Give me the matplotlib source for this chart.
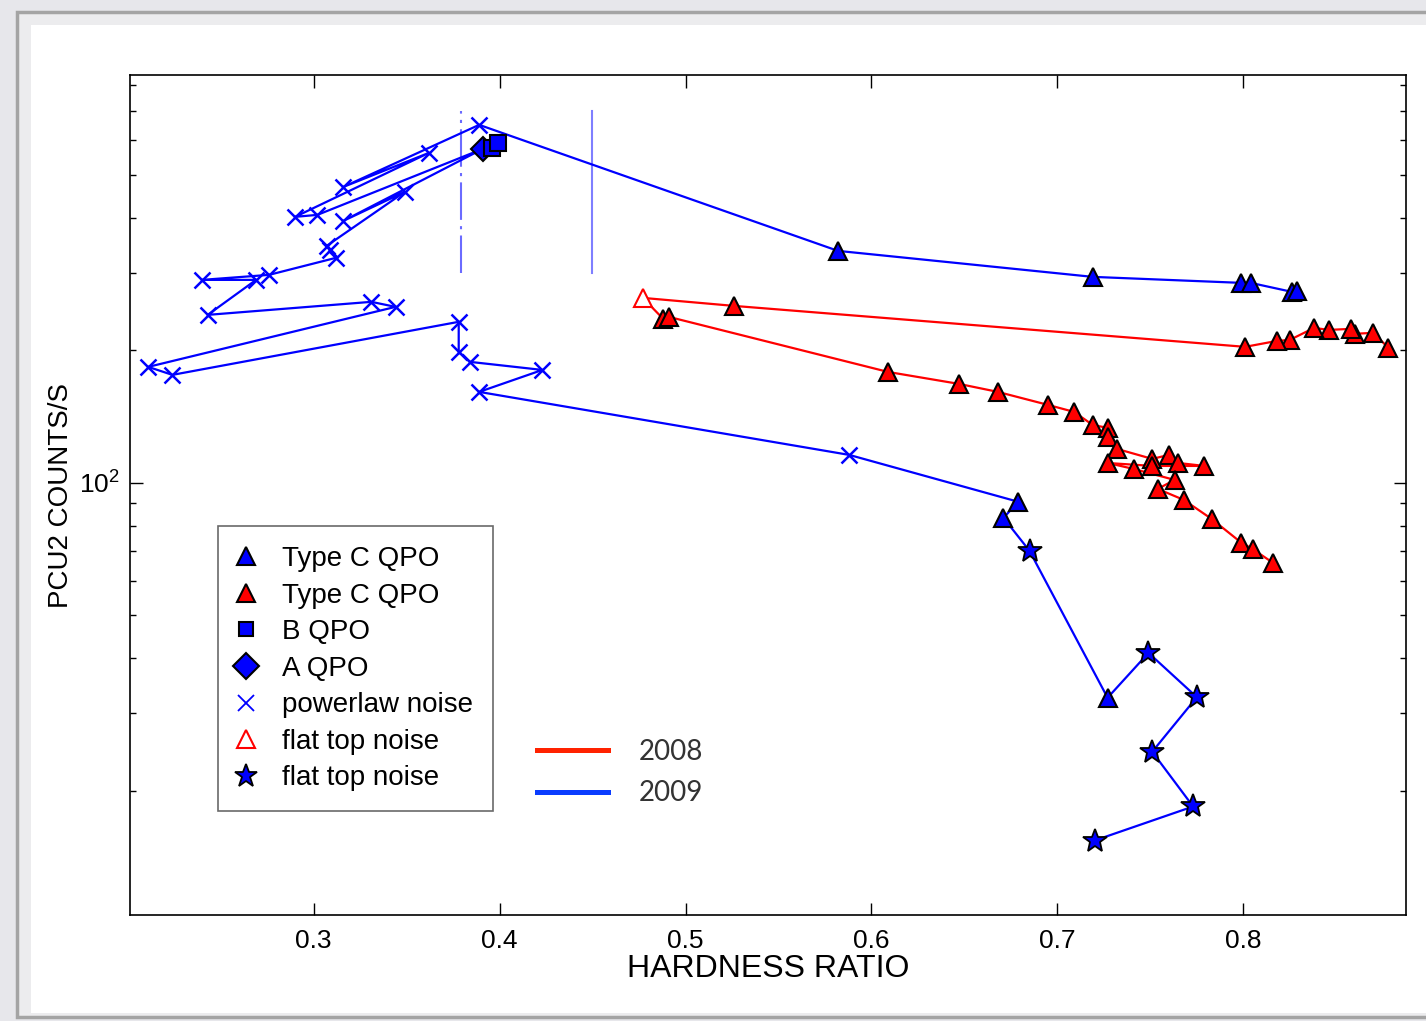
#!/usr/bin/env python3

from matplotlib import pyplot as plt
from matplotlib.lines import Line2D
from matplotlib.patches import Rectangle
from matplotlib.ticker import NullFormatter, FixedLocator
import numpy as np


W, H = 1426, 1021

# 2009 outburst, in track order (hardness ratio, PCU2 count rate)
hr_2009 = [0.720, 0.773, 0.751, 0.775, 0.749, 0.727, 0.685, 0.671, 0.679,
           0.588, 0.389, 0.423, 0.384, 0.378, 0.378, 0.224, 0.211, 0.344,
           0.331, 0.243, 0.269, 0.240, 0.276, 0.312, 0.309, 0.307, 0.349,
           0.316, 0.391, 0.396, 0.399, 0.302, 0.290, 0.362, 0.316, 0.389,
           0.582, 0.719, 0.799, 0.804, 0.826, 0.829]
rate_2009 = [15.4, 18.4, 24.5, 32.6, 41.1, 32.5, 70.1, 83.3, 90.6,
             115.8, 161.0, 180.6, 188.4, 198.5, 232.3, 176.0, 183.5, 251.2,
             257.9, 240.9, 289.3, 289.3, 297.0, 324.7, 338.5, 345.7, 458.5,
             394.0, 574.2, 577.2, 592.5, 406.5, 402.3, 562.3, 470.6, 651.0,
             336.7, 293.9, 284.8, 284.8, 271.8, 273.2]
# S = flat top noise, C = type C QPO, X = powerlaw noise, A = A QPO, B = B QPO
kind_2009 = list("SSSSSCSCC" + "X" * 19 + "ABB" + "XXXXX" + "CCCCCC")

# 2008 outburst, in track order
hr_2008 = [0.878, 0.870, 0.860, 0.858, 0.846, 0.838, 0.825, 0.818, 0.801,
           0.526, 0.477, 0.488, 0.491, 0.609, 0.647, 0.668, 0.695, 0.709,
           0.719, 0.727, 0.727, 0.732, 0.751, 0.760, 0.765, 0.779, 0.751,
           0.727, 0.741, 0.763, 0.754, 0.768, 0.783, 0.799, 0.805, 0.816]
rate_2008 = [202.7, 219.3, 218.2, 223.9, 222.7, 225.0, 211.3, 210.2, 203.8,
             252.5, 263.3, 235.9, 238.4, 178.7, 167.9, 161.0, 150.4, 145.0,
             135.4, 133.4, 127.2, 119.5, 113.4, 115.8, 111.0, 109.3, 109.3,
             111.0, 107.6, 101.6, 96.9, 91.5, 82.8, 73.1, 70.8, 65.8]
# F = flat top noise, C = type C QPO
kind_2008 = list("CCCCCCCCCCFCC" + "C" * 23)

# vertical markers
vline_dashdot = 0.379
vline_solid = 0.4497
vline_range = (300, 700)

XLIM = (0.2012, 0.8875)
YLIM = (10.43, 845)
XTICKS = [0.3, 0.4, 0.5, 0.6, 0.7, 0.8]
YMINOR = [20, 30, 40, 50, 60, 70, 80, 90, 200, 300, 400, 500, 600, 700, 800]

BLUE = "#0000ff"
RED = "#ff0000"
FONT = "Liberation Sans"

STYLE = {
    "C_blue": dict(marker="^", ms=13, mfc=BLUE, mec="k", mew=1.5),
    "C_red": dict(marker="^", ms=13, mfc=RED, mec="k", mew=1.5),
    "F_red": dict(marker="^", ms=13, mfc="white", mec=RED, mew=1.5),
    "B": dict(marker="s", ms=11, mfc=BLUE, mec="k", mew=1.5),
    "A": dict(marker="D", ms=12, mfc=BLUE, mec="k", mew=1.5),
    "X": dict(marker="x", ms=12, mfc=BLUE, mec=BLUE, mew=1.8),
    "S": dict(marker="*", ms=18, mfc=BLUE, mec="k", mew=1.3),
}


def subset(xs, ys, kinds, k):
    idx = [i for i, kk in enumerate(kinds) if kk == k]
    return [xs[i] for i in idx], [ys[i] for i in idx]


def slide_frame(fig):
    fig.patch.set_facecolor("#e7e7eb")
    fig.patches.append(Rectangle((17 / W, (H - 1017) / H), 1.1, 1005 / H,
                                 transform=fig.transFigure, fc="#ececee",
                                 ec="#a4a4a4", lw=2.5, zorder=-2))
    fig.patches.append(Rectangle((31 / W, (H - 1013) / H), 1.1, 988 / H,
                                 transform=fig.transFigure, fc="white",
                                 ec="none", zorder=-1))


def main():
    fig = plt.figure(figsize=(W / 100, H / 100), dpi=100)
    slide_frame(fig)
    ax = fig.add_axes([130 / W, 1 - 915 / H, (1406 - 130) / W, (915 - 75) / H])
    ax.set_facecolor("white")
    ax.set_yscale("log")

    ax.plot(hr_2009, rate_2009, "-", color=BLUE, lw=1.6, zorder=2)
    ax.plot(hr_2008, rate_2008, "-", color=RED, lw=1.6, zorder=2)

    for k, st in [("X", "X"), ("A", "A"), ("B", "B"), ("C", "C_blue"),
                  ("S", "S")]:
        xs, ys = subset(hr_2009, rate_2009, kind_2009, k)
        ax.plot(xs, ys, ls="none", zorder=3, **STYLE[st])
    for k, st in [("C", "C_red"), ("F", "F_red")]:
        xs, ys = subset(hr_2008, rate_2008, kind_2008, k)
        ax.plot(xs, ys, ls="none", zorder=3, **STYLE[st])

    ax.plot([vline_dashdot] * 2, vline_range, color="#6b6bff", lw=1.5,
            ls=(0, (18, 3, 1.5, 3)), zorder=1)
    ax.plot([vline_solid] * 2, vline_range, color="#7f7fff", lw=1.5,
            zorder=1)

    ax.set_xlim(XLIM)
    ax.set_ylim(YLIM)
    ax.set_xticks(XTICKS)
    ax.set_xticklabels([f"{t:.1f}" for t in XTICKS])
    ax.yaxis.set_major_locator(FixedLocator([100]))
    ax.yaxis.set_minor_locator(FixedLocator(YMINOR))
    ax.yaxis.set_minor_formatter(NullFormatter())
    ax.tick_params(which="both", direction="in", top=True, right=True,
                   width=1, labelsize=19)
    ax.tick_params(axis="x", which="major", pad=10)
    ax.tick_params(axis="y", which="major", pad=7)
    ax.tick_params(which="major", length=9)
    ax.tick_params(which="minor", length=4.5)
    for lab in ax.get_xticklabels() + ax.get_yticklabels():
        lab.set_fontfamily(FONT)
    for sp in ax.spines.values():
        sp.set_linewidth(1.2)

    ax.set_xlabel("HARDNESS RATIO", fontsize=23, family=FONT, labelpad=1)
    ax.set_ylabel("PCU2 COUNTS/S", fontsize=20, family=FONT, labelpad=4)

    handles = [
        Line2D([], [], ls="none", **dict(STYLE["C_blue"], ms=13)),
        Line2D([], [], ls="none", **dict(STYLE["C_red"], ms=13)),
        Line2D([], [], ls="none", **dict(STYLE["B"], ms=10)),
        Line2D([], [], ls="none", **dict(STYLE["A"], ms=13)),
        Line2D([], [], ls="none", **dict(STYLE["X"], ms=11, mew=1.3)),
        Line2D([], [], ls="none", **dict(STYLE["F_red"], ms=13)),
        Line2D([], [], ls="none", **dict(STYLE["S"], ms=17)),
    ]
    labels = ["Type C QPO", "Type C QPO", "B QPO", "A QPO", "powerlaw noise",
              "flat top noise", "flat top noise"]
    leg = fig.legend(handles, labels, loc="upper left",
                     bbox_to_anchor=(218 / W, 1 - 526 / H),
                     prop={"family": FONT, "size": 20}, frameon=True,
                     fancybox=False, edgecolor="#444444", borderaxespad=0,
                     handlelength=0.55, handletextpad=1.05,
                     labelspacing=0.38, borderpad=0.72)
    leg.get_frame().set_linewidth(1.2)

    year_handles = [Line2D([], [], color="#ff2200", lw=3.6),
                    Line2D([], [], color="#0a3cff", lw=3.6)]
    fig.legend(year_handles, ["2008", "2009"], loc="upper left",
               bbox_to_anchor=(526 / W, 1 - 728 / H), frameon=False,
               prop={"family": "Lato", "size": 20}, labelcolor="#333333",
               handlelength=2.55, handletextpad=1.1, labelspacing=0.55,
               borderaxespad=0)

    fig.savefig("out.png", dpi=100, facecolor=fig.get_facecolor())


if __name__ == "__main__":
    main()
